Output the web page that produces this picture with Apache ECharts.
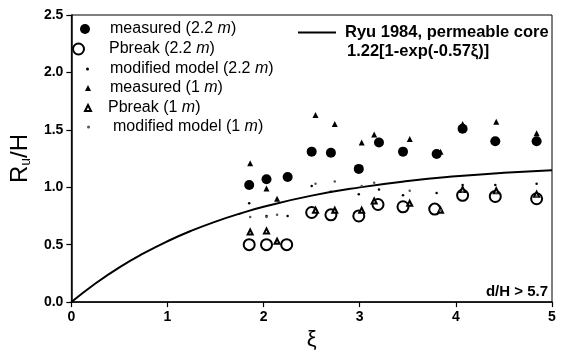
<!DOCTYPE html>
<html><head><meta charset="utf-8">
<script src="https://cdn.jsdelivr.net/npm/echarts@6/dist/echarts.min.js"></script>
<style>html,body{margin:0;padding:0;background:#fff}#c{width:568px;height:356px}</style>
</head><body><div id="c"></div>
<script>
// data: [xi, Ru/H]
var measured22 = [[1.85,1.02],[2.03,1.07],[2.25,1.09],[2.50,1.31],[2.70,1.30],[2.99,1.16],[3.20,1.39],[3.45,1.31],[3.80,1.29],[4.07,1.51],[4.41,1.40],[4.84,1.40]];
var pbreak22 = [[1.85,0.50],[2.03,0.50],[2.24,0.50],[2.50,0.78],[2.70,0.76],[2.99,0.75],[3.19,0.85],[3.45,0.83],[3.78,0.81],[4.07,0.93],[4.41,0.92],[4.84,0.90]];
var model22 = [[1.85,0.86],[2.03,0.75],[2.25,0.75],[2.50,1.01],[2.70,0.96],[2.99,0.94],[3.20,0.98],[3.45,0.93],[3.80,0.95],[4.07,1.02],[4.41,1.02],[4.84,1.03]];
var measured1 = [[1.86,1.21],[2.03,0.99],[2.14,0.90],[2.54,1.63],[2.74,1.55],[3.02,1.39],[3.15,1.46],[3.52,1.42],[3.84,1.31],[4.07,1.55],[4.42,1.57],[4.84,1.47]];
var pbreak1 = [[1.86,0.61],[2.03,0.62],[2.14,0.53],[2.54,0.80],[2.74,0.80],[3.02,0.80],[3.15,0.88],[3.52,0.86],[3.84,0.80],[4.07,0.98],[4.42,0.97],[4.84,0.94]];
var model1 = [[1.86,0.74],[2.03,0.74],[2.14,0.76],[2.54,1.03],[2.74,1.05],[3.02,1.01],[3.15,1.04],[3.52,0.97],[3.84,0.80],[4.07,0.96],[4.42,0.95],[4.84,0.92]];
// Ryu 1984 curve sampled values
var ryuX = [0,0.25,0.5,0.75,1.0,1.25,1.5,1.75,2.0,2.5,3.0,3.5,4.0,4.5,5.0];
var ryuY = [0,0.162,0.303,0.424,0.530,0.622,0.701,0.770,0.830,0.927,0.999,1.054,1.095,1.126,1.149];
var xTicks = [0,1,2,3,4,5];
var yTicks = [0,0.5,1.0,1.5,2.0,2.5];

var names = ['measured (2.2 m)','Pbreak (2.2 m)','modified model (2.2 m)','measured (1 m)','Pbreak (1 m)','modified model (1 m)','Ryu 1984, permeable core'];
var FONT = '"Liberation Sans", Arial, sans-serif';
var ryu = ryuX.map(function(x,i){return [x, ryuY[i]];});

function leg(name, top, left, w, h, icon, pad){
  return {data:[{name:name, icon:icon}], top: top, left: left, itemWidth: w, itemHeight: h,
    textStyle: {fontFamily: FONT, fontSize: 16, color:'#000',
      rich:{g:{width:pad, fontSize:16}, t:{fontFamily:FONT, fontSize:16, color:'#000'},
            i:{fontFamily: FONT, fontSize:16, fontStyle:'italic', color:'#000'}}},
    formatter: function(n){ var p = n.split(' m)'); return '{g|}{t|' + p[0] + ' }{i|m}{t|)}'; },
    selectedMode:false, padding:0};
}
var rowY = [29, 49, 69, 88, 108, 127];
var chart = echarts.init(document.getElementById('c'), null, {renderer:'canvas'});
chart.setOption({
  animation:false,
  grid:{left:68, right:16, top:15, bottom:52, show:true, borderColor:'#000', borderWidth:1},
  xAxis:{type:'value', min:0, max:5, interval:1,
    axisLine:{show:true, onZero:false, lineStyle:{color:'#000', width:1.5}},
    axisTick:{show:true, length:5, lineStyle:{color:'#000', width:1.2}},
    splitLine:{show:false},
    axisLabel:{color:'#000', fontFamily:FONT, fontWeight:'bold', fontSize:14, margin:8,
      formatter:function(v){return xTicks.indexOf(v)>=0? String(v):'';}},
    name:'ξ', nameLocation:'middle', nameGap:22,
    nameTextStyle:{color:'#000', fontFamily:FONT, fontSize:22}},
  yAxis:{type:'value', min:0, max:2.5, interval:0.5,
    axisLine:{show:true, onZero:false, lineStyle:{color:'#000', width:1.5}},
    axisTick:{show:true, length:5, lineStyle:{color:'#000', width:1.2}},
    splitLine:{show:false},
    axisLabel:{color:'#000', fontFamily:FONT, fontWeight:'bold', fontSize:14, margin:8,
      formatter:function(v){var t=yTicks.find(function(a){return Math.abs(a-v)<1e-9;}); return t===undefined?'':t.toFixed(1);}},
    name:'R{s|u}/H', nameLocation:'middle', nameGap:32, nameRotate:90,
    nameTextStyle:{color:'#000', fontFamily:FONT, fontSize:24,
      rich:{s:{fontFamily:FONT, fontSize:14, color:'#000', verticalAlign:'bottom', padding:[12,0,0,0]}}}},
  legend:[
    leg(names[0], rowY[0]-8, 80, 10, 10, 'circle', 15),
    leg(names[1], rowY[1]-8, 72, 11, 11, 'emptyCircle', 20),
    leg(names[2], rowY[2]-8, 86, 3, 3, 'circle', 16),
    leg(names[3], rowY[3]-8, 85, 6, 6, 'triangle', 14),
    leg(names[4], rowY[4]-8, 84, 6, 6, 'emptyTriangle', 12),
    leg(names[5], rowY[5]-8, 87, 3, 3, 'circle', 18),
    {data:[{name:names[6], icon:'rect'}], top: 24, left: 298, itemWidth: 38, itemHeight: 2, selectedMode:false, padding:0,
      textStyle:{fontFamily:FONT, fontSize:16.5, fontWeight:'bold', color:'#000', padding:[0,0,0,4]}}
  ],
  graphic:[
    {type:'text', left:347, top:43, style:{text:'1.22[1-exp(-0.57ξ)]', fill:'#000', font:'bold 16.5px "Liberation Sans", Arial, sans-serif'}},
    {type:'text', right:20, top:284, style:{text:'d/H > 5.7', fill:'#000', font:'bold 15px "Liberation Sans", Arial, sans-serif'}}
  ],
  series:[
    {name:names[0], type:'scatter', data:measured22, symbol:'circle', symbolSize:10, itemStyle:{color:'#000', opacity:1}},
    {name:names[1], type:'scatter', data:pbreak22, symbol:'emptyCircle', symbolSize:11, itemStyle:{color:'#000', borderColor:'#000', borderWidth:1.2, opacity:1}},
    {name:names[2], type:'scatter', data:model22, symbol:'circle', symbolSize:2.5, itemStyle:{color:'#000', opacity:1}},
    {name:names[3], type:'scatter', data:measured1, symbol:'triangle', symbolSize:6, itemStyle:{color:'#000', opacity:1}},
    {name:names[4], type:'scatter', data:pbreak1, symbol:'emptyTriangle', symbolSize:5, itemStyle:{color:'#000', borderColor:'#444', borderWidth:0.8, opacity:1}},
    {name:names[5], type:'scatter', data:model1, symbol:'circle', symbolSize:2.5, itemStyle:{color:'#555', opacity:1}},
    {name:names[6], type:'line', data:ryu, smooth:true, symbol:'none', lineStyle:{color:'#000', width:2}, itemStyle:{color:'#000'}, z:1}
  ]
});
</script></body></html>
